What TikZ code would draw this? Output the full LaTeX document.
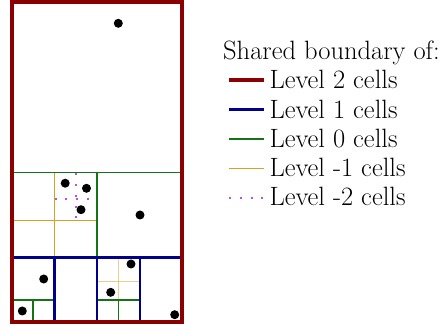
\documentclass[tikz,border=0pt]{standalone}
\definecolor{lvred}{RGB}{139,0,0}
\definecolor{lvblue}{RGB}{0,0,140}
\definecolor{lvgreen}{RGB}{20,115,20}
\definecolor{lvyellow}{RGB}{218,160,30}
\definecolor{lvpurple}{RGB}{185,80,235}
\tikzset{
  lvtwo/.style={draw=lvred, line width=4pt},
  lvone/.style={draw=lvblue, line width=2.8pt},
  lvzero/.style={draw=lvgreen, line width=1.8pt},
  lvmone/.style={draw=lvyellow, line width=1pt},
  lvmonepale/.style={draw=lvyellow, line width=1.2pt, draw opacity=0.5},
  lvmtwo/.style={draw=lvpurple, line width=2pt, dash pattern=on 2pt off 8.7pt},
  dot/.style={circle, fill=black, inner sep=0pt, minimum size=9pt},
  legtext/.style={anchor=base west, inner sep=0pt, font=\fontsize{26.5}{32}\selectfont}
}
\begin{document}
\begin{tikzpicture}[x=1pt, y=-1pt]
\useasboundingbox (0,0) rectangle (440,331);
% level -2
\draw[lvmtwo] (75.7,173.5) -- (75.7,220.3);
\draw[lvmtwo] (54.5,199) -- (97,199);
% level -1
\draw[lvmone] (54.5,172.5) -- (54.5,257.7);
\draw[lvmone] (12,220.3) -- (97,220.3);
\draw[lvmonepale] (118.5,257.7) -- (118.5,300.3);
\draw[lvmonepale] (97,281.7) -- (140,281.7);
% level 0
\draw[lvzero] (12,172.5) -- (182.3,172.5);
\draw[lvzero] (97,172.5) -- (97,257.7);
\draw[lvzero] (12,300.2) -- (54.3,300.2);
\draw[lvzero] (33,300.2) -- (33,321.7);
\draw[lvzero] (97,300.3) -- (140,300.3);
\draw[lvzero] (118.5,300.3) -- (118.5,322.5);
% level 1
\draw[lvone] (12,257.7) -- (182.3,257.7);
\draw[lvone] (54.3,257.7) -- (54.3,321.7);
\draw[lvone] (97,257.7) -- (97,321.7);
\draw[lvone] (140,257.7) -- (140,321.7);
% level 2
\draw[lvtwo] (12,2) rectangle (182.3,321.7);
% points
\node[dot] (d1) at (118.3,23.3) {};
\node[dot] (d2) at (65.2,183.2) {};
\node[dot] (d3) at (86.5,188.3) {};
\node[dot] (d4) at (81,209.7) {};
\node[dot] (d5) at (140,215) {};
\node[dot] (d6) at (43.7,279) {};
\node[dot] (d7) at (22.3,311) {};
\node[dot] (d8) at (131,264) {};
\node[dot] (d9) at (110.7,292.3) {};
\node[dot] (d10) at (174.7,314.7) {};
% legend
\node[legtext] (title) at (223,60) {Shared boundary of:};
\coordinate (a2) at (229,79.9);
\coordinate (b2) at (263.5,79.9);
\coordinate (a1) at (229,109.9);
\coordinate (b1) at (263.5,109.9);
\coordinate (a0) at (229,139.3);
\coordinate (b0) at (263.5,139.3);
\coordinate (am1) at (229,168.5);
\coordinate (bm1) at (263.5,168.5);
\coordinate (am2) at (229.3,197.7);
\coordinate (bm2) at (263.5,197.7);
\draw[lvtwo] (a2) -- (b2);
\draw[lvone] (a1) -- (b1);
\draw[lvzero] (a0) -- (b0);
\draw[lvmone] (am1) -- (bm1);
\draw[lvmtwo] (am2) -- (bm2);
\node[legtext] (t2) at (269.3,88.4) {Level 2 cells};
\node[legtext] (t1) at (269.3,118.4) {Level 1 cells};
\node[legtext] (t0) at (269.3,147.8) {Level 0 cells};
\node[legtext] (tm1) at (269.3,177) {Level -1 cells};
\node[legtext] (tm2) at (269.3,206) {Level -2 cells};
\end{tikzpicture}
\end{document}
